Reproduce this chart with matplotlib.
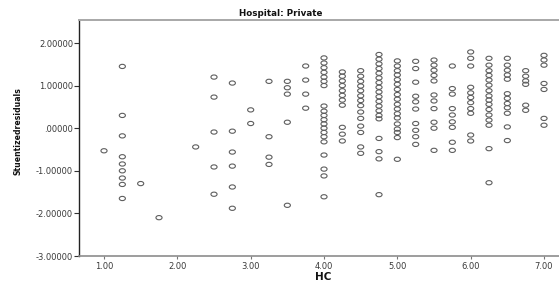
import numpy as np
import matplotlib
matplotlib.use("Agg")
import matplotlib.pyplot as plt
from matplotlib.path import Path

# ---- data: studentized residuals per HC level ----
res_100 = [-0.53]
res_125 = [1.45, 0.30, -0.18, -0.67, -0.84, -1.00, -1.17, -1.32, -1.65]
res_150 = [-1.30]
res_175 = [-2.10]
res_225 = [-0.44]
res_250 = [1.20, 0.73, -0.09, -0.91, -1.55]
res_275 = [1.06, -0.07, -0.56, -0.89, -1.38, -1.88]
res_300 = [0.43, 0.11]
res_325 = [1.10, -0.20, -0.68, -0.85]
res_350 = [1.10, 0.95, 0.80, 0.14, -1.81]
res_375 = [1.46, 1.13, 0.80, 0.47]
res_400 = [1.65, 1.53, 1.42, 1.31, 1.20, 1.10, 1.00, 0.52, 0.40, 0.30,
           0.20, 0.10, 0.00, -0.10, -0.20, -0.32, -0.63, -0.96, -1.12, -1.61]
res_425 = [1.32, 1.22, 1.11, 1.00, 0.88, 0.77, 0.66, 0.54, 0.02, -0.14, -0.30]
res_450 = [1.35, 1.22, 1.10, 0.99, 0.88, 0.76, 0.65, 0.53, 0.38, 0.23,
           0.05, -0.10, -0.44, -0.59]
res_475 = [1.73, 1.62, 1.51, 1.40, 1.29, 1.18, 1.07, 0.96, 0.85, 0.74,
           0.63, 0.52, 0.41, 0.30, 0.22, -0.24, -0.55, -0.72, -1.56]
res_500 = [1.58, 1.46, 1.35, 1.25, 1.14, 1.03, 0.91, 0.79, 0.68, 0.56,
           0.45, 0.34, 0.24, 0.10, -0.02, -0.10, -0.22, -0.73]
res_525 = [1.57, 1.40, 1.08, 0.75, 0.62, 0.45, 0.11, -0.05, -0.20, -0.38]
res_550 = [1.60, 1.48, 1.36, 1.24, 1.11, 0.78, 0.64, 0.46, 0.14, 0.00, -0.52]
res_575 = [1.46, 0.93, 0.80, 0.46, 0.31, 0.15, 0.02, -0.33, -0.52]
res_600 = [1.79, 1.64, 1.46, 0.96, 0.83, 0.72, 0.60, 0.46, 0.35, -0.16, -0.30]
res_625 = [1.64, 1.48, 1.35, 1.24, 1.13, 1.01, 0.88, 0.76, 0.66, 0.56,
           0.44, 0.31, 0.19, 0.07, -0.48, -1.28]
res_650 = [1.64, 1.48, 1.36, 1.25, 1.15, 0.81, 0.70, 0.58, 0.48, 0.35, 0.03, -0.29]
res_675 = [1.35, 1.22, 1.11, 1.03, 0.54, 0.42]
res_700 = [1.71, 1.60, 1.48, 1.05, 0.91, 0.23, 0.07]

hc_levels = [1.00, 1.25, 1.50, 1.75, 2.25, 2.50, 2.75, 3.00, 3.25, 3.50, 3.75,
             4.00, 4.25, 4.50, 4.75, 5.00, 5.25, 5.50, 5.75, 6.00, 6.25,
             6.50, 6.75, 7.00]
residual_groups = [res_100, res_125, res_150, res_175, res_225, res_250, res_275,
                   res_300, res_325, res_350, res_375, res_400, res_425, res_450,
                   res_475, res_500, res_525, res_550, res_575, res_600, res_625,
                   res_650, res_675, res_700]

x_ticks = [1, 2, 3, 4, 5, 6, 7]
x_ticklabels = ["1.00", "2.00", "3.00", "4.00", "5.00", "6.00", "7.00"]
y_ticks = [-3, -2, -1, 0, 1, 2]
y_ticklabels = ["-3.00000", "-2.00000", "-1.00000", ".00000", "1.00000", "2.00000"]

hc = np.concatenate([[lv] * len(g) for lv, g in zip(hc_levels, residual_groups)])
resid = np.concatenate([np.asarray(g, float) for g in residual_groups])

# ---- figure ----
W, H = 559, 285
fig = plt.figure(figsize=(W / 100, H / 100), dpi=100)
fig.patch.set_facecolor("white")
ax = fig.add_axes([79 / W, 29 / H, 480 / W, 236 / H])

# wide ellipse marker (reference is horizontally stretched)
uc = Path.unit_circle()
ell = Path(uc.vertices * np.array([1.45, 1.0]), uc.codes)

ax.scatter(hc, resid, marker=ell, s=4.4 ** 2, facecolors="none",
           edgecolors="#5e5e5e", linewidths=0.8, zorder=3)

ax.set_xlim(0.659, 7.2045)
ax.set_ylim(-3.0, 2.54)
ax.set_xticks(x_ticks)
ax.set_xticklabels(x_ticklabels)
ax.set_yticks(y_ticks)
ax.set_yticklabels(y_ticklabels)

ax.spines["right"].set_visible(False)
ax.spines["left"].set_color("#222222")
ax.spines["left"].set_linewidth(1.0)
ax.spines["bottom"].set_color("#8c8c8c")
ax.spines["bottom"].set_linewidth(1.2)
ax.spines["top"].set_color("#a8a8a8")
ax.spines["top"].set_linewidth(1.4)

ax.tick_params(axis="y", direction="out", length=3.5, width=0.8, pad=0.8,
               color="#333333", labelsize=6.0, labelcolor="#3a3a3a")
ax.tick_params(axis="x", direction="out", length=2.5, width=0.8, pad=1.5,
               color="#777777", labelsize=6.0, labelcolor="#3a3a3a")
for lab in ax.get_xticklabels() + ax.get_yticklabels():
    lab.set_family("DejaVu Sans")

fig.text(281 / W, 1 - 13 / H, "Hospital: Private", ha="center", va="center",
         fontsize=6.3, fontweight="bold", family="DejaVu Sans", color="#111111")
fig.text(18 / W, 1 - 131 / H, "Stuentizedresiduals", ha="center", va="center",
         rotation=90, fontsize=5.6, fontweight="bold", family="DejaVu Sans",
         color="#111111")
fig.text(323 / W, 1 - 277 / H, "HC", ha="center", va="center",
         fontsize=7.5, fontweight="bold", family="DejaVu Sans", color="#111111")

fig.savefig("out.png", dpi=100, facecolor="white")
